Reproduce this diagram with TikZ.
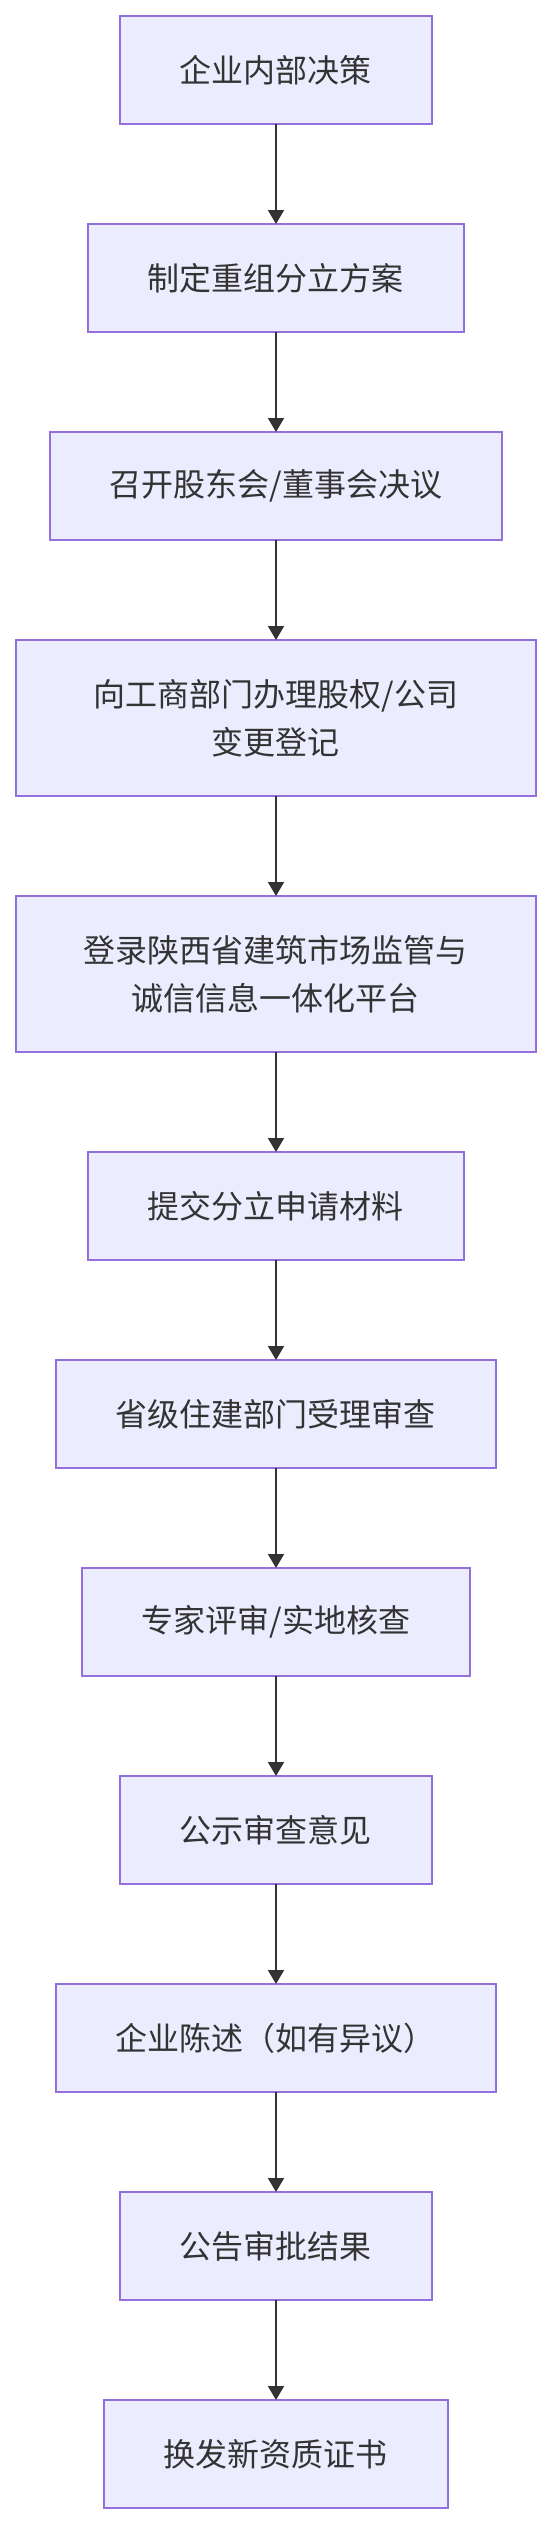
\documentclass[tikz,border=0pt]{standalone}
\usepackage{fontspec}
\setmainfont{Noto Sans CJK SC}
\usepackage{tikz}
\usetikzlibrary{positioning, arrows.meta}

\definecolor{boxfill}{HTML}{ECECFF}
\definecolor{boxline}{HTML}{9370DB}
\definecolor{ink}{HTML}{333333}

\begin{document}
\begin{tikzpicture}[node distance=50pt, >={Triangle[width=8pt, length=7pt]},
  stage/.style={draw=boxline, fill=boxfill, line width=1pt, text=ink,
    font=\fontsize{16}{24}\selectfont, inner xsep=30pt, inner ysep=0pt,
    outer sep=0pt, minimum height=54pt, align=center},
  widestage/.style={stage, text width=200pt, minimum height=78pt}]
  \useasboundingbox (-138pt,8pt) rectangle (138pt,-1254pt);

  \node[stage, anchor=north] (decide) at (0,0) {企业内部决策};
  \node[stage] (plan) [below=of decide] {制定重组分立方案};
  \node[stage] (resolve) [below=of plan] {召开股东会/董事会决议};
  \node[widestage] (change) [below=of resolve] {向工商部门办理股权/公司\\变更登记};
  \node[widestage] (login) [below=of change] {登录陕西省建筑市场监管与\\诚信信息一体化平台};
  \node[stage] (submit) [below=of login] {提交分立申请材料};
  \node[stage] (accept) [below=of submit] {省级住建部门受理审查};
  \node[stage] (review) [below=of accept] {专家评审/实地核查};
  \node[stage] (publicize) [below=of review] {公示审查意见};
  \node[stage] (statement) [below=of publicize] {企业陈述（如有异议）};
  \node[stage] (announce) [below=of statement] {公告审批结果};
  \node[stage] (issue) [below=of announce] {换发新资质证书};

  \path[->, ink, line width=1pt]
  (decide) edge (plan)
  (plan) edge (resolve)
  (resolve) edge (change)
  (change) edge (login)
  (login) edge (submit)
  (submit) edge (accept)
  (accept) edge (review)
  (review) edge (publicize)
  (publicize) edge (statement)
  (statement) edge (announce)
  (announce) edge (issue);
\end{tikzpicture}
\end{document}
